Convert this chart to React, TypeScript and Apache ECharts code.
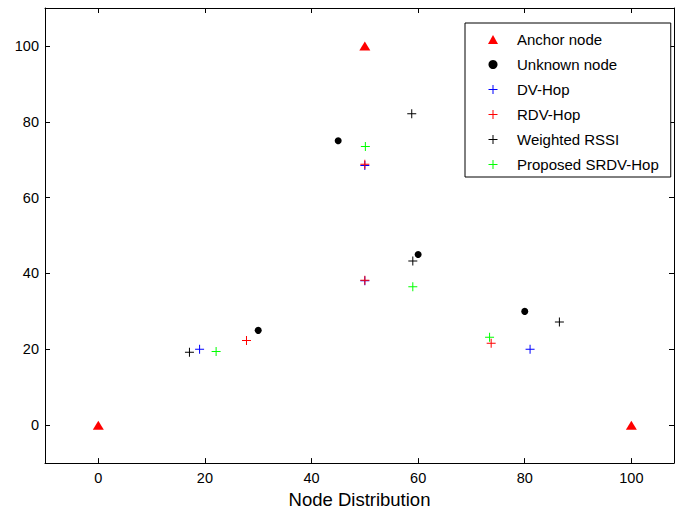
import React, { useEffect, useRef } from "react";
import * as echarts from "echarts";

const xTicks = [0, 20, 40, 60, 80, 100];
const yTicks = [0, 20, 40, 60, 80, 100];

const anchorNodes = [[0, 0], [50, 100], [100, 0]];
const unknownNodes = [[30, 25], [45, 75], [60, 45], [80, 30]];
const dvHop = [[19, 20], [50, 68.5], [50, 38.1], [81, 20]];
const rdvHop = [[27.8, 22.3], [50, 68.8], [50, 38.2], [73.7, 21.6]];
const weightedRssi = [[17.1, 19.2], [58.8, 82.1], [59, 43.3], [86.5, 27.2]];
const proposedSrdv = [[22.1, 19.4], [50.1, 73.5], [59, 36.5], [73.4, 23.2]];

const FONT = "'Liberation Sans', Arial, sans-serif";
const PLUS = "path://M4,0L5,0L5,4L9,4L9,5L5,5L5,9L4,9L4,5L0,5L0,4L4,4Z";

export default function App() {
  const ref = useRef<HTMLDivElement>(null);
  useEffect(() => {
    if (!ref.current) return;
    const chart = echarts.init(ref.current, null, { renderer: "svg" });
    const axisCommon = {
      axisLine: { show: true, onZero: false, lineStyle: { color: "#000", width: 1 } },
      axisTick: { show: true, inside: true, length: 5, lineStyle: { color: "#000" } },
      splitLine: { show: false },
    };
    const cross = (name: string, color: string, data: number[][]) => ({
      name,
      type: "scatter",
      data,
      symbol: PLUS,
      symbolSize: 9,
      itemStyle: { color, opacity: 1 },
      silent: true,
    });
    chart.setOption({
      animation: false,
      backgroundColor: "#fff",
      grid: { left: 45, top: 8, right: 2, bottom: 50, containLabel: false },
      xAxis: [
        {
          type: "value",
          min: -10,
          max: 108,
          position: "bottom",
          ...axisCommon,
          axisTick: { ...axisCommon.axisTick, customValues: xTicks },
          axisLabel: {
            customValues: xTicks,
            margin: 7,
            fontSize: 14.5,
            color: "#000",
            fontFamily: FONT,
          },
          name: "Node Distribution",
          nameLocation: "middle",
          nameGap: 26,
          nameTextStyle: { fontSize: 18.5, color: "#000", fontFamily: FONT },
        },
        {
          type: "value",
          min: -10,
          max: 108,
          position: "top",
          ...axisCommon,
          axisTick: { ...axisCommon.axisTick, customValues: xTicks },
          axisLabel: { show: false },
        },
      ],
      yAxis: [
        {
          type: "value",
          min: -10,
          max: 110,
          position: "left",
          ...axisCommon,
          axisTick: { ...axisCommon.axisTick, customValues: yTicks },
          axisLabel: {
            customValues: yTicks,
            margin: 6,
            fontSize: 14.5,
            color: "#000",
            fontFamily: FONT,
          },
        },
        {
          type: "value",
          min: -10,
          max: 110,
          position: "right",
          ...axisCommon,
          axisTick: { ...axisCommon.axisTick, customValues: yTicks },
          axisLabel: { show: false },
        },
      ],
      legend: {
        orient: "vertical",
        left: 465,
        top: 23,
        padding: [9, 12, 5, 23],
        itemWidth: 10,
        itemHeight: 9,
        itemGap: 10,
        borderColor: "#000",
        borderWidth: 1,
        backgroundColor: "#fff",
        textStyle: {
          fontSize: 15,
          lineHeight: 15,
          color: "#000",
          fontFamily: FONT,
          padding: [0, 0, 0, 14],
        },
        data: [
          "Anchor node",
          "Unknown node",
          "DV-Hop",
          "RDV-Hop",
          "Weighted RSSI",
          "Proposed SRDV-Hop",
        ],
      },
      series: [
        {
          name: "Anchor node",
          type: "scatter",
          data: anchorNodes,
          symbol: "triangle",
          symbolSize: [11, 9],
          itemStyle: { color: "#ff0000", opacity: 1 },
          silent: true,
        },
        {
          name: "Unknown node",
          type: "scatter",
          data: unknownNodes,
          symbol: "circle",
          symbolSize: 7,
          itemStyle: { color: "#000", opacity: 1 },
          silent: true,
        },
        cross("DV-Hop", "#0000ff", dvHop),
        cross("RDV-Hop", "#ff0000", rdvHop),
        cross("Weighted RSSI", "#000000", weightedRssi),
        cross("Proposed SRDV-Hop", "#00ff00", proposedSrdv),
      ],
    });
    return () => chart.dispose();
  }, []);
  return (
    <div
      ref={ref}
      style={{ position: "absolute", left: 0, top: 0, width: 676, height: 514 }}
    />
  );
}
